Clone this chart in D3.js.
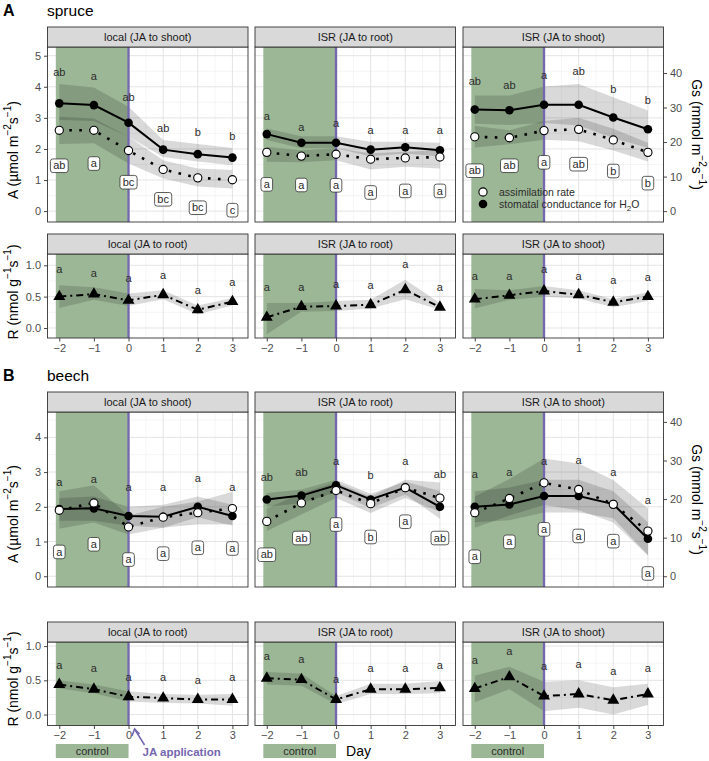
<!DOCTYPE html>
<html>
<head>
<meta charset="utf-8">
<script src="https://cdn.jsdelivr.net/npm/d3@7"></script>
<style>
  body { margin: 0; background: #fff; }
  svg { display: block; font-family: "Liberation Sans", Arial, sans-serif; }
</style>
</head>
<body>
<div id="chart"></div>
<script>
// ---- data ----
const days = [-2, -1, 0, 1, 2, 3];
const stripsA = ["local (JA to shoot)", "ISR (JA to root)", "ISR (JA to shoot)"];
const stripsR = ["local (JA to root)", "ISR (JA to root)", "ISR (JA to shoot)"];

// stomatal conductance Gs (mmol m-2 s-1), one row per panel
const spruceGsMean = [[31.2, 30.7, 25.6, 17.8, 16.5, 15.5], [22.3, 19.8, 19.8, 17.8, 18.5, 17.6], [29.4, 29.2, 30.8, 30.8, 27.1, 23.7]];
const spruceGsLo   = [[26.4, 26.1, 21.5, 15.7, 14.4, 13.3], [20.6, 18.2, 18.2, 15.8, 16.7, 15.8], [25.3, 24.9, 25.5, 24.8, 21.2, 18.3]];
const spruceGsHi   = [[36.8, 35.8, 30.2, 20.6, 19.4, 18.3], [23.9, 21.7, 21.7, 20.1, 20.1, 19.8], [33.5, 33.5, 36.1, 36.8, 33.0, 29.1]];
// assimilation A (umol m-2 s-1)
const spruceAMean = [[2.60, 2.60, 1.95, 1.34, 1.07, 1.01], [1.89, 1.77, 1.83, 1.67, 1.71, 1.74], [2.39, 2.36, 2.59, 2.63, 2.29, 1.89]];
const spruceALo   = [[2.16, 2.18, 1.53, 1.05, 0.79, 0.73], [1.59, 1.57, 1.64, 1.34, 1.43, 1.37], [2.05, 2.15, 2.30, 2.25, 1.95, 1.60]];
const spruceAHi   = [[3.04, 2.98, 2.39, 1.64, 1.37, 1.32], [2.07, 1.96, 2.02, 1.86, 1.91, 1.96], [2.75, 2.60, 2.90, 3.00, 2.65, 2.20]];
const spruceGsLetters = [["ab", "a", "ab", "ab", "b", "b"], ["a", "a", "a", "a", "a", "a"], ["ab", "ab", "a", "ab", "b", "b"]];
const spruceGsLetterAt = [[4.45, 4.32, 3.66, 2.66, 2.53, 2.39], [3.06, 2.71, 2.82, 2.61, 2.61, 2.61], [4.16, 4.06, 4.38, 4.51, 3.92, 3.55]];
const spruceALetters = [["ab", "a", "bc", "bc", "bc", "c"], ["a", "a", "a", "a", "a", "a"], ["ab", "ab", "a", "ab", "b", "b"]];
const spruceALetterAt = [[1.46, 1.53, 0.93, 0.38, 0.11, 0.03], [0.86, 0.84, 0.83, 0.60, 0.65, 0.65], [1.30, 1.46, 1.57, 1.51, 1.29, 0.90]];
// respiration R (nmol g-1 s-1)
const spruceRMean = [[0.50, 0.54, 0.44, 0.53, 0.29, 0.42], [0.17, 0.34, 0.35, 0.37, 0.61, 0.33], [0.46, 0.52, 0.59, 0.53, 0.41, 0.50]];
const spruceRLo   = [[0.32, 0.45, 0.35, 0.46, 0.22, 0.36], [-0.10, 0.26, 0.27, 0.31, 0.46, 0.29], [0.31, 0.45, 0.50, 0.47, 0.33, 0.43]];
const spruceRHi   = [[0.68, 0.65, 0.55, 0.60, 0.36, 0.48], [0.40, 0.40, 0.43, 0.45, 0.77, 0.40], [0.62, 0.60, 0.67, 0.60, 0.46, 0.57]];
const spruceRLetterAt = [[0.93, 0.87, 0.79, 0.84, 0.60, 0.72], [0.65, 0.65, 0.70, 0.68, 1.02, 0.65], [0.83, 0.83, 0.93, 0.82, 0.76, 0.80]];

const beechGsMean = [[17.4, 17.6, 15.6, 15.4, 18.0, 15.6], [19.9, 20.9, 23.6, 19.9, 23.0, 18.0], [18.0, 18.6, 20.8, 20.8, 18.7, 9.7]];
const beechGsLo   = [[14.4, 14.4, 13.1, 12.6, 15.3, 13.1], [18.0, 18.9, 21.8, 17.6, 21.2, 14.9], [14.0, 14.5, 16.5, 16.5, 15.0, 5.5]];
const beechGsHi   = [[20.3, 20.7, 18.0, 18.5, 20.7, 18.5], [21.6, 22.5, 25.0, 21.4, 24.5, 22.1], [22.0, 23.0, 25.0, 25.0, 22.0, 14.0]];
const beechAMean = [[1.90, 2.11, 1.42, 1.70, 1.83, 1.95], [1.58, 2.11, 2.47, 2.09, 2.55, 2.25], [1.83, 2.24, 2.69, 2.50, 2.07, 1.30]];
const beechALo   = [[1.37, 1.55, 1.20, 1.40, 1.50, 1.50], [1.30, 1.78, 2.25, 1.82, 2.25, 1.85], [1.40, 1.75, 2.05, 1.90, 1.55, 0.60]];
const beechAHi   = [[2.45, 2.62, 1.75, 2.00, 2.15, 2.43], [1.95, 2.40, 2.70, 2.30, 2.78, 2.70], [2.30, 2.80, 3.39, 3.25, 2.77, 1.95]];
const beechGsLetters = [["a", "a", "a", "a", "a", "a"], ["ab", "ab", "a", "b", "a", "ab"], ["a", "a", "a", "a", "a", "a"]];
const beechGsLetterAt = [[2.70, 2.80, 2.56, 2.56, 2.81, 2.56], [2.84, 2.99, 3.32, 2.91, 3.31, 2.93], [2.94, 2.99, 3.31, 3.34, 3.00, 2.19]];
const beechALetters = [["a", "a", "a", "a", "a", "a"], ["ab", "ab", "a", "b", "a", "ab"], ["a", "a", "a", "a", "a", "a"]];
const beechALetterAt = [[0.70, 0.92, 0.48, 0.65, 0.82, 0.80], [0.62, 1.10, 1.49, 1.13, 1.57, 1.10], [0.56, 0.99, 1.35, 1.16, 1.01, 0.08]];
const beechRMean = [[0.44, 0.37, 0.26, 0.24, 0.22, 0.22], [0.53, 0.51, 0.22, 0.37, 0.37, 0.39], [0.38, 0.55, 0.27, 0.30, 0.21, 0.30]];
const beechRLo   = [[0.38, 0.31, 0.19, 0.17, 0.16, 0.13], [0.44, 0.42, 0.15, 0.30, 0.30, 0.31], [0.18, 0.37, 0.05, 0.10, 0.00, 0.14]];
const beechRHi   = [[0.50, 0.44, 0.34, 0.30, 0.29, 0.30], [0.62, 0.60, 0.27, 0.45, 0.45, 0.49], [0.57, 0.70, 0.48, 0.50, 0.40, 0.45]];
const beechRLetterAt = [[0.72, 0.67, 0.54, 0.55, 0.50, 0.54], [0.85, 0.80, 0.51, 0.68, 0.67, 0.72], [0.79, 0.93, 0.71, 0.73, 0.63, 0.67]];

const controlStart = -2.1, jaDay = 0;
const gsPerA = 9; // secondary axis factor

const species = [
  { tag: "A", name: "spruce", gsMean: spruceGsMean, gsLo: spruceGsLo, gsHi: spruceGsHi, aMean: spruceAMean, aLo: spruceALo, aHi: spruceAHi,
    gsLet: spruceGsLetters, gsAt: spruceGsLetterAt, aLet: spruceALetters, aAt: spruceALetterAt, rMean: spruceRMean, rLo: spruceRLo, rHi: spruceRHi, rAt: spruceRLetterAt },
  { tag: "B", name: "beech", gsMean: beechGsMean, gsLo: beechGsLo, gsHi: beechGsHi, aMean: beechAMean, aLo: beechALo, aHi: beechAHi,
    gsLet: beechGsLetters, gsAt: beechGsLetterAt, aLet: beechALetters, aAt: beechALetterAt, rMean: beechRMean, rLo: beechRLo, rHi: beechRHi, rAt: beechRLetterAt }
];

// ---- layout ----
const W = 709, H = 761;
const colLeft = [47.5, 255, 463], colW = 200.5, stripH = 20;
const xDomain = [-2.34, 3.45];
const green = "#9cb796", purple = "#7467b0", ink = "#2b2b2b";

const rows = [
  { sp: 0, kind: "A", top: 47, bottom: 222, domain: [-0.35, 5.28], ticks: [0, 1, 2, 3, 4, 5], titleY: 150, headY: 16 },
  { sp: 0, kind: "R", top: 254, bottom: 338, domain: [-0.16, 1.18], ticks: [0, 0.5, 1], titleY: 292 },
  { sp: 1, kind: "A", top: 412, bottom: 587, domain: [-0.31, 4.73], ticks: [0, 1, 2, 3, 4], titleY: 514, headY: 381 },
  { sp: 1, kind: "R", top: 642, bottom: 725.5, domain: [-0.16, 1.06], ticks: [0, 0.5, 1], titleY: 679 }
];

const svg = d3.select("#chart").append("svg").attr("width", W).attr("height", H);

const fmtDay = d => d < 0 ? "\u2212" + Math.abs(d) : String(d);

function unitTitle(sel, lead, unit, sup1, sup2) {
  sel.append("tspan").text(lead + " (" + unit + " m");
  sel.append("tspan").attr("dy", -6).attr("font-size", 10).text("\u2212" + sup1);
  sel.append("tspan").attr("dy", 6).text("s");
  sel.append("tspan").attr("dy", -6).attr("font-size", 10).text("\u2212" + sup2);
  sel.append("tspan").attr("dy", 6).text(")");
}

function plainLetter(g, x, y, s) {
  g.append("text").attr("x", x).attr("y", y).attr("dy", "0.33em")
    .attr("text-anchor", "middle").attr("font-size", 11).attr("fill", ink).text(s);
}

function boxedLetter(g, x, y, s) {
  const t = g.append("text").attr("x", x).attr("y", y).attr("dy", "0.33em")
    .attr("text-anchor", "middle").attr("font-size", 11).attr("fill", ink).text(s);
  const w = t.node().getComputedTextLength() + 5.5;
  g.insert("rect", () => t.node())
    .attr("x", x - w / 2).attr("y", y - 6.8).attr("width", w).attr("height", 13.6)
    .attr("rx", 2.5).attr("fill", "#fff").attr("stroke", "#333").attr("stroke-width", 0.8);
}

rows.forEach((row, ri) => {
  const sp = species[row.sp];
  const y = d3.scaleLinear().domain(row.domain).range([row.bottom, row.top]);
  const yG = d3.scaleLinear().domain(row.domain.map(v => v * gsPerA)).range([row.bottom, row.top]);
  const strips = row.kind === "A" ? stripsA : stripsR;
  const majorY = row.ticks;
  const minorY = row.kind === "A"
    ? d3.range(0.5, row.domain[1], 1)
    : [0.25, 0.75];

  colLeft.forEach((x0, c) => {
    const x = d3.scaleLinear().domain(xDomain).range([x0, x0 + colW]);
    const g = svg.append("g");
    const pw = colW, ph = row.bottom - row.top;

    g.append("rect").attr("x", x0).attr("y", row.top).attr("width", pw).attr("height", ph).attr("fill", "#fff");

    // grid
    const grid = g.append("g");
    minorY.forEach(v => grid.append("line").attr("x1", x0).attr("x2", x0 + pw).attr("y1", y(v)).attr("y2", y(v))
      .attr("stroke", "#efefef").attr("stroke-width", 0.6));
    d3.range(-1.5, 3, 1).forEach(v => grid.append("line").attr("y1", row.top).attr("y2", row.bottom).attr("x1", x(v)).attr("x2", x(v))
      .attr("stroke", "#efefef").attr("stroke-width", 0.6));
    majorY.forEach(v => grid.append("line").attr("x1", x0).attr("x2", x0 + pw).attr("y1", y(v)).attr("y2", y(v))
      .attr("stroke", "#e4e4e4").attr("stroke-width", 1));
    days.forEach(v => grid.append("line").attr("y1", row.top).attr("y2", row.bottom).attr("x1", x(v)).attr("x2", x(v))
      .attr("stroke", "#e4e4e4").attr("stroke-width", 1));

    // control period
    g.append("rect").attr("x", x(controlStart)).attr("y", row.top)
      .attr("width", x(jaDay) - x(controlStart)).attr("height", ph).attr("fill", green);

    const pts = days.map((d, i) => i);

    if (row.kind === "A") {
      const gsBand = d3.area().x(i => x(days[i])).y0(i => yG(sp.gsLo[c][i])).y1(i => yG(sp.gsHi[c][i]));
      const aBand = d3.area().x(i => x(days[i])).y0(i => y(sp.aLo[c][i])).y1(i => y(sp.aHi[c][i]));
      g.append("path").attr("d", gsBand(pts)).attr("fill", "#000").attr("fill-opacity", 0.15);
      g.append("path").attr("d", aBand(pts)).attr("fill", "#000").attr("fill-opacity", 0.15);
    } else {
      const rBand = d3.area().x(i => x(days[i])).y0(i => y(sp.rLo[c][i])).y1(i => y(sp.rHi[c][i]));
      g.append("path").attr("d", rBand(pts)).attr("fill", "#000").attr("fill-opacity", 0.15);
    }

    // JA application day
    g.append("line").attr("x1", x(jaDay)).attr("x2", x(jaDay)).attr("y1", row.top).attr("y2", row.bottom)
      .attr("stroke", purple).attr("stroke-width", 2.3);

    if (row.kind === "A") {
      const gsLine = d3.line().x(i => x(days[i])).y(i => yG(sp.gsMean[c][i]));
      const aLine = d3.line().x(i => x(days[i])).y(i => y(sp.aMean[c][i]));
      g.append("path").attr("d", gsLine(pts)).attr("fill", "none").attr("stroke", "#000").attr("stroke-width", 2);
      g.append("path").attr("d", aLine(pts)).attr("fill", "none").attr("stroke", "#000")
        .attr("stroke-width", 2.6).attr("stroke-dasharray", "2.6 7.4");
      pts.forEach(i => g.append("circle").attr("cx", x(days[i])).attr("cy", yG(sp.gsMean[c][i])).attr("r", 4.3).attr("fill", "#000"));
      pts.forEach(i => g.append("circle").attr("cx", x(days[i])).attr("cy", y(sp.aMean[c][i])).attr("r", 4.1)
        .attr("fill", "#fff").attr("stroke", "#000").attr("stroke-width", 1.1));
      pts.forEach(i => plainLetter(g, x(days[i]), y(sp.gsAt[c][i]), sp.gsLet[c][i]));
      pts.forEach(i => boxedLetter(g, x(days[i]), y(sp.aAt[c][i]), sp.aLet[c][i]));
    } else {
      const rLine = d3.line().x(i => x(days[i])).y(i => y(sp.rMean[c][i]));
      g.append("path").attr("d", rLine(pts)).attr("fill", "none").attr("stroke", "#000")
        .attr("stroke-width", 2).attr("stroke-dasharray", "7 4 2 4");
      const tri = d3.symbol(d3.symbolTriangle, 62);
      pts.forEach(i => g.append("path").attr("d", tri())
        .attr("transform", `translate(${x(days[i])},${y(sp.rMean[c][i])})`).attr("fill", "#000"));
      pts.forEach(i => plainLetter(g, x(days[i]), y(sp.rAt[c][i]), "a"));
    }

    // border + strip
    g.append("rect").attr("x", x0).attr("y", row.top).attr("width", pw).attr("height", ph)
      .attr("fill", "none").attr("stroke", "#333").attr("stroke-width", 0.9);
    g.append("rect").attr("x", x0).attr("y", row.top - stripH).attr("width", pw).attr("height", stripH)
      .attr("fill", "#d9d9d9").attr("stroke", "#333").attr("stroke-width", 0.9);
    g.append("text").attr("x", x0 + pw / 2).attr("y", row.top - stripH / 2).attr("dy", "0.35em")
      .attr("text-anchor", "middle").attr("font-size", 11).attr("fill", "#1a1a1a").text(strips[c]);

    // axes
    if (c === 0) {
      const ax = g.append("g").attr("transform", `translate(${x0},0)`)
        .call(d3.axisLeft(y).tickValues(row.ticks).tickSize(3.5).tickPadding(3)
          .tickFormat(row.kind === "A" ? d3.format("d") : d3.format(".1f")));
      styleAxis(ax);
    }
    if (c === 2 && row.kind === "A") {
      const ax = g.append("g").attr("transform", `translate(${x0 + pw},0)`)
        .call(d3.axisRight(yG).tickValues([0, 10, 20, 30, 40]).tickSize(3.5).tickPadding(3));
      styleAxis(ax);
    }
    if (row.kind === "R") {
      const ax = g.append("g").attr("transform", `translate(0,${row.bottom})`)
        .call(d3.axisBottom(x).tickValues(days).tickSize(3.5).tickPadding(2.5).tickFormat(fmtDay));
      styleAxis(ax);
    }

    // legend inside spruce ISR (JA to shoot)
    if (ri === 0 && c === 2) {
      const lx = x0 + 20, ly = row.bottom - 30;
      g.append("circle").attr("cx", lx).attr("cy", ly).attr("r", 4.1).attr("fill", "#fff").attr("stroke", "#000").attr("stroke-width", 1.1);
      g.append("circle").attr("cx", lx).attr("cy", ly + 12).attr("r", 4.3).attr("fill", "#000");
      g.append("text").attr("x", lx + 16).attr("y", ly).attr("dy", "0.35em").attr("font-size", 10.5).attr("fill", ink).text("assimilation rate");
      const t2 = g.append("text").attr("x", lx + 16).attr("y", ly + 12).attr("dy", "0.35em").attr("font-size", 10.5).attr("fill", ink);
      t2.append("tspan").text("stomatal conductance for H");
      t2.append("tspan").attr("dy", 3).attr("font-size", 8).text("2");
      t2.append("tspan").attr("dy", -3).text("O");
    }
  });

  // left axis title
  const lt = svg.append("text").attr("transform", `translate(13,${row.titleY}) rotate(-90)`)
    .attr("text-anchor", "middle").attr("dominant-baseline", "central").attr("font-size", 14).attr("fill", "#000");
  if (row.kind === "A") unitTitle(lt, "A", "\u00b5mol", "2", "1");
  else unitTitle(lt, "R", "nmol", "", "1");
  if (row.kind === "R") {
    // R uses g-1 rather than m-2
    lt.selectAll("*").remove();
    lt.append("tspan").text("R (nmol g");
    lt.append("tspan").attr("dy", -6).attr("font-size", 10).text("\u22121");
    lt.append("tspan").attr("dy", 6).text("s");
    lt.append("tspan").attr("dy", -6).attr("font-size", 10).text("\u22121");
    lt.append("tspan").attr("dy", 6).text(")");
  }

  if (row.kind === "A") {
    const rt = svg.append("text").attr("transform", `translate(697,${(row.top + row.bottom) / 2}) rotate(90)`)
      .attr("text-anchor", "middle").attr("dominant-baseline", "central").attr("font-size", 14).attr("fill", "#000");
    unitTitle(rt, "Gs", "mmol", "2", "1");
    svg.append("text").attr("x", 3).attr("y", row.headY).attr("font-size", 16).attr("font-weight", "bold").text(sp.tag);
    svg.append("text").attr("x", 47).attr("y", row.headY).attr("font-size", 15.5).attr("fill", "#000").text(sp.name);
  }
});

function styleAxis(ax) {
  ax.select(".domain").remove();
  ax.selectAll(".tick line").attr("stroke", "#333").attr("stroke-width", 0.9);
  ax.selectAll(".tick text").attr("fill", "#4d4d4d").attr("font-size", 11)
    .attr("font-family", "\"Liberation Sans\", Arial, sans-serif");
}

// bottom annotations
const lastRow = rows[3];
colLeft.forEach((x0, c) => {
  const x = d3.scaleLinear().domain(xDomain).range([x0, x0 + colW]);
  svg.append("rect").attr("x", x(controlStart)).attr("y", 744).attr("width", x(jaDay) - x(controlStart)).attr("height", 14)
    .attr("fill", green);
  svg.append("text").attr("x", (x(controlStart) + x(jaDay)) / 2).attr("y", 751).attr("dy", "0.35em")
    .attr("text-anchor", "middle").attr("font-size", 11).attr("fill", ink).text("control");
  if (c === 0) {
    const x0d = x(jaDay);
    svg.append("line").attr("x1", x0d + 16).attr("y1", 745).attr("x2", x0d + 6).attr("y2", lastRow.bottom + 3.5)
      .attr("stroke", purple).attr("stroke-width", 1.6);
    svg.append("path").attr("d", `M${x0d + 3.5},${lastRow.bottom + 10.5} L${x0d + 6},${lastRow.bottom + 3.5} L${x0d + 11},${lastRow.bottom + 8.5}`)
      .attr("fill", "none").attr("stroke", purple).attr("stroke-width", 1.6);
    svg.append("text").attr("x", x0d + 14).attr("y", 752).attr("dy", "0.35em").attr("font-size", 11.5)
      .attr("font-weight", "bold").attr("fill", purple).text("JA application");
  }
  if (c === 1) {
    svg.append("text").attr("x", x(jaDay) + 10).attr("y", 751).attr("dy", "0.35em").attr("font-size", 14)
      .attr("fill", "#000").text("Day");
  }
});
</script>
</body>
</html>
